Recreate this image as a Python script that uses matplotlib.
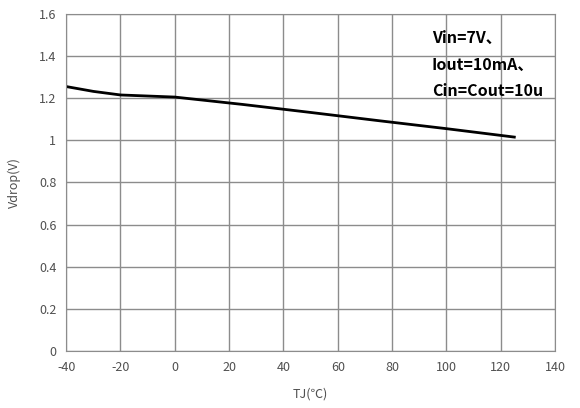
import matplotlib.pyplot as plt

# Vdrop vs junction temperature
temp = [-40, -30, -20, -10, 0, 25, 50, 75, 100, 125]
vdrop = [1.255, 1.232, 1.215, 1.210, 1.205, 1.170, 1.132, 1.093, 1.055, 1.015]

xticks = [-40, -20, 0, 20, 40, 60, 80, 100, 120, 140]
yticks = [0, 0.2, 0.4, 0.6, 0.8, 1.0, 1.2, 1.4, 1.6]
ylabels = ['0', '0.2', '0.4', '0.6', '0.8', '1', '1.2', '1.4', '1.6']
notes = ['Vin=7V、', 'Iout=10mA、', 'Cin=Cout=10u']

plt.rcParams['font.family'] = ['Noto Sans CJK SC', 'DejaVu Sans']
plt.rcParams['axes.unicode_minus'] = False

fig = plt.figure(figsize=(5.8, 4.08), dpi=100)
ax = fig.add_axes([0.114, 0.14, 0.843, 0.826])

ax.plot(temp, vdrop, color='black', linewidth=2)

ax.set_xlim(-40, 140)
ax.set_ylim(0, 1.6)
ax.set_xticks(xticks)
ax.set_yticks(yticks)
ax.set_yticklabels(ylabels)
ax.grid(True, color='#8c8c8c', linewidth=1)
ax.tick_params(length=0, labelsize=9, colors='#505050', pad=7)
for s in ax.spines.values():
    s.set_color('#8c8c8c')

ax.set_xlabel('TJ(℃)', fontsize=9, color='#505050', labelpad=10)
ax.set_ylabel('Vdrop(V)', fontsize=9, color='#505050', labelpad=13)

for i, t in enumerate(notes):
    ax.text(0.748, 0.93 - i * 0.08, t, transform=ax.transAxes, fontsize=11.5,
            fontweight='bold', color='black', va='center', ha='left')

fig.savefig('out.png', dpi=100)
